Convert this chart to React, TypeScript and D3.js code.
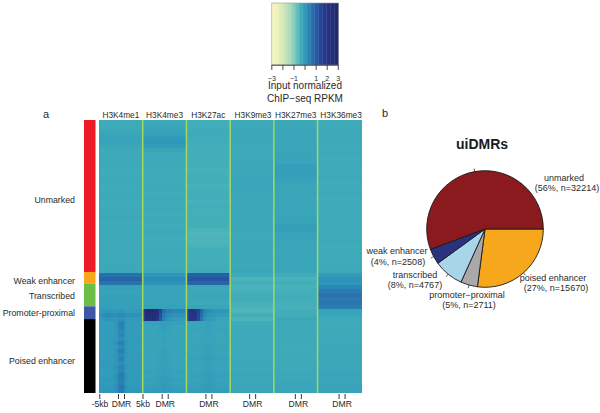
import React from "react";
import * as d3 from "d3";

const colorStops = [-3, -2.4, -1.8, -1.2, -0.8, -0.4, 0, 0.4, 0.8, 1.2, 1.6, 2.2, 3];
const colorValues = ["#f7f6c2", "#e9f0b6", "#c9e4b6", "#9bd4ba", "#6cc3bd", "#40adb9", "#2e98ba", "#2a7fb3", "#2767a8", "#264f9e", "#263c91", "#253080", "#1f2a68"];
const barTicks = [-3, -2, -1, 0, 1, 2, 3];
const barLabels = [-3, -1, 1, 2, 3];

const marks = ["H3K4me1", "H3K4me3", "H3K27ac", "H3K9me3", "H3K27me3", "H3K36me3"];
const markLabelShift = [0, 0, 0, 1, 0, 1.6];
const dmrLabelShift = [0, 0, 0, 0, 2, 2];

// One value per heatmap row (68 rows, top to bottom)
const rowsH3K4me1 = [-.36,-.32,-.3,-.25,-.22,-.2,-.26,-.32,-.34,-.32,-.35,-.33,-.36,-.34,-.3,-.34,-.36,-.33,-.3,-.33,-.36,-.34,-.32,-.34,-.28,-.33,-.35,-.32,-.3,-.34,-.3,-.33,-.32,-.3,-.34,-.31,-.3,-.28,.66,.86,.6,-.18,-.2,-.17,-.18,-.16,-.15,-.1,.1,-.05,-.08,-.1,-.07,-.1,-.08,-.06,-.1,-.07,-.05,-.08,-.06,-.04,-.07,-.05,-.03,-.05,-.02,0];
const rowsH3K4me3 = [-.3,-.27,-.22,-.15,-.05,0,-.05,-.25,-.32,-.3,-.33,-.34,-.36,-.34,-.36,-.38,-.35,-.34,-.37,-.35,-.33,-.36,-.34,-.38,-.32,-.35,-.37,-.33,-.35,-.38,-.32,-.36,-.34,-.35,-.33,-.3,-.33,-.28,.05,.18,.1,-.2,-.22,-.2,-.2,-.22,-.18,.28,.1,-.05,-.18,-.22,-.2,-.24,-.22,-.25,-.23,-.22,-.2,-.24,-.2,-.22,-.18,-.2,-.15,-.17,-.12,-.1];
const rowsH3K27ac = [-.42,-.4,-.38,-.36,-.38,-.4,-.42,-.44,-.43,-.42,-.44,-.42,-.45,-.43,-.42,-.44,-.45,-.43,-.42,-.44,-.46,-.42,-.43,-.44,-.42,-.44,-.43,-.5,-.54,-.51,-.52,-.47,-.44,-.42,-.44,-.42,-.4,-.38,.9,1.08,.82,-.28,-.3,-.27,-.28,-.3,-.25,.02,-.1,-.2,-.24,-.25,-.23,-.26,-.24,-.25,-.22,-.24,-.2,-.18,-.2,-.22,-.2,-.18,-.2,-.17,-.15,-.12];
const rowsH3K9me3 = [-.32,-.3,-.3,-.28,-.3,-.28,-.3,-.32,-.3,-.32,-.28,-.27,-.26,-.28,-.25,-.27,-.26,-.25,-.28,-.26,-.28,-.27,-.29,-.3,-.28,-.3,-.28,-.3,-.31,-.3,-.28,-.3,-.29,-.31,-.3,-.28,-.3,-.27,-.36,-.5,-.44,-.5,-.46,-.42,-.4,-.45,-.48,-.54,-.44,-.5,-.36,-.34,-.32,-.34,-.3,-.33,-.31,-.3,-.32,-.3,-.28,-.3,-.28,-.27,-.26,-.28,-.25,-.25];
const rowsH3K27me3 = [-.3,-.28,-.26,-.27,-.26,-.27,-.25,-.26,-.24,-.22,-.2,-.13,-.12,-.14,-.17,-.2,-.25,-.26,-.24,-.26,-.27,-.24,-.25,-.24,-.22,-.2,-.14,-.13,-.2,-.22,-.25,-.24,-.25,-.27,-.25,-.24,-.25,-.24,-.38,-.48,-.42,-.48,-.44,-.42,-.4,-.44,-.45,-.42,-.4,-.28,-.34,-.33,-.32,-.33,-.3,-.34,-.32,-.36,-.34,-.32,-.3,-.33,-.3,-.28,-.3,-.27,-.26,-.24];
const rowsH3K36me3 = [-.36,-.34,-.33,-.32,-.34,-.33,-.35,-.36,-.35,-.37,-.36,-.36,-.38,-.36,-.35,-.37,-.38,-.36,-.35,-.37,-.36,-.38,-.36,-.37,-.36,-.38,-.37,-.36,-.38,-.36,-.35,-.37,-.36,-.35,-.36,-.35,-.34,-.32,-.05,.1,.02,.25,.45,.6,.5,.55,.42,-.22,-.25,-.35,-.36,-.34,-.33,-.32,-.3,-.3,-.28,-.29,-.27,-.28,-.26,-.28,-.27,-.25,-.26,-.24,-.22,-.2];
const markRows = [rowsH3K4me1, rowsH3K4me3, rowsH3K27ac, rowsH3K9me3, rowsH3K27me3, rowsH3K36me3];

// Across-window profiles: 16 bins from -5kb to +5kb of each window
const profileFlat = [0,0,0,0,0,0,0,0,0,0,0,0,0,0,0,0];
const profileDmrFaint = [0,0,0,0,0,.02,.05,.08,.08,.05,.02,0,0,0,0,0];
const profileDmrStrong = [0,0,0,0,0,.03,.14,.42,.48,.16,.04,0,0,0,0,0];
const profileK4me3Promoter = [1.5,2.4,2.5,2.5,2.35,2,1.1,.4,.18,.1,.05,0,0,0,0,0];
const profileK27acPromoter = [1.5,2.1,2.15,2,1.5,.8,.35,.2,.14,.1,.06,.02,0,0,0,0];
const profileK4me1Promoter = [0,.05,.1,.12,.06,.02,.06,.12,.14,.06,0,0,0,0,0,0];
// How strongly the DMR stripe shows in each of the 18 poised-enhancer rows
const poisedDmrStrength = [.9,1,.6,.8,.5,1,.7,1.1,.6,.9,.5,.8,.7,1.1,1,.9,1.2,1];

const poisedStart = 50;
const promoterRows = [47, 48, 49];
const rowCount = rowsH3K4me1.length;

const classes = ["Unmarked", "Weak enhancer", "Transcribed", "Promoter-proximal", "Poised enhancer"];
const classCounts = [32214, 2508, 4767, 2711, 15670];
const classColors = ["#ed1c24", "#faa61a", "#6abd45", "#3f57a6", "#000000"];
const classLabelY = [200, 281, 296, 313, 361];

const pieNames = ["poised enhancer", "promoter\u2212proximal", "transcribed", "weak enhancer", "unmarked"];
const pieCounts = [15670, 2711, 4767, 2508, 32214];
const piePercents = [27, 5, 8, 4, 56];
const pieColors = ["#f6a71c", "#a9a9a9", "#a9d5e8", "#2a317f", "#8a1a1e"];
const pieLabelPos = [[553, 281, 556, 291], [467, 298, 469, 308], [415, 278, 415, 288], [397, 254, 398, 265], [564, 181, 567, 191]];

const W = 600, H = 413;
const font = "'Liberation Sans', Arial, sans-serif";
const textColor = "#2a2a2a";

function profileFor(m: number, row: number) {
  if (promoterRows.includes(row)) {
    if (m === 0) return profileK4me1Promoter;
    if (m === 1) return profileK4me3Promoter;
    if (m === 2) return profileK27acPromoter;
  }
  if (row >= poisedStart && m === 0) return profileDmrStrong;
  if (row >= poisedStart && m === 1) return profileDmrFaint;
  if (row >= poisedStart && m === 2) return profileDmrFaint;
  return profileFlat;
}

export default function App() {
  const color = d3.scaleLinear<string>().domain(colorStops).range(colorValues).interpolate(d3.interpolateRgb).clamp(true);

  const barX = d3.scaleLinear().domain([-3, 3]).range([271.8, 338.3]);
  const barSteps = d3.range(-3, 3, 0.12);

  const markX = d3.scaleBand<string>().domain(marks).range([99, 361.3]);
  const binX = d3.scaleBand<number>().domain(d3.range(16)).range([0, markX.bandwidth()]);
  const rowY = d3.scaleBand<number>().domain(d3.range(rowCount)).range([120, 393]);
  const sideY = d3.scaleLinear().domain([0, d3.sum(classCounts)]).range([120, 393]);
  const cum = d3.cumsum(classCounts);

  const pie = d3.pie<number>().sort(null).startAngle(Math.PI / 2).endAngle(Math.PI / 2 + 2 * Math.PI)(pieCounts);
  const arc = d3.arc<d3.PieArcDatum<number>>().innerRadius(0).outerRadius(58.3);
  const cx = 485, cy = 229;

  const sideTicks = (start: number) => [start + 19.5, start + 25.5];

  return (
    <svg width={W} height={H} viewBox={`0 0 ${W} ${H}`} style={{ position: "absolute", left: 0, top: 0, background: "#fff" }} fontFamily={font}>
      <defs>
        <filter id="soft" x="99" y="120" width="262.3" height="273" filterUnits="userSpaceOnUse">
          <feGaussianBlur stdDeviation="0.7 0.5" edgeMode="duplicate" />
        </filter>
      </defs>

      {/* colour key */}
      <g>
        {barSteps.map((v) => (
          <rect key={v} x={barX(v)} y={3} width={barX(v + 0.12) - barX(v) + 0.4} height={62} fill={color(v + 0.06)} />
        ))}
        <rect x={271.8} y={3} width={66.5} height={62} fill="none" stroke="#999" strokeWidth={0.6} />
        <line x1={barX(-3)} x2={barX(3)} y1={65.2} y2={65.2} stroke="#222" strokeWidth={0.8} />
        {barTicks.map((t) => (
          <line key={t} x1={barX(t)} x2={barX(t)} y1={65} y2={70} stroke="#222" strokeWidth={0.8} />
        ))}
        {barLabels.map((t) => (
          <text key={t} x={barX(t)} y={81} fontSize={7} textAnchor="middle" fill={textColor}>
            {t < 0 ? `\u2212${-t}` : t}
          </text>
        ))}
        <text x={305} y={89} fontSize={10} textAnchor="middle" fill={textColor}>Input normalized</text>
        <text x={305} y={102} fontSize={10} textAnchor="middle" fill={textColor}>ChIP{"\u2212"}seq RPKM</text>
      </g>

      <text x={46} y={118} fontSize={11} textAnchor="middle" fill={textColor}>a</text>
      <text x={385} y={117} fontSize={11} textAnchor="middle" fill={textColor}>b</text>

      {/* class side bar */}
      {classes.map((c, i) => (
        <g key={c}>
          <rect x={84} width={11.5} y={sideY(i === 0 ? 0 : cum[i - 1])} height={sideY(cum[i]) - sideY(i === 0 ? 0 : cum[i - 1])} fill={classColors[i]} />
          <text x={75} y={classLabelY[i]} dy="0.35em" fontSize={8.8} textAnchor="end" fill={textColor}>{c}</text>
        </g>
      ))}

      {/* heatmap */}
      <g filter="url(#soft)">
        {marks.map((m, mi) =>
          markRows[mi].map((v, r) => {
            const prof = profileFor(mi, r);
            const k = r >= poisedStart ? poisedDmrStrength[r - poisedStart] : 1;
            return prof.map((p, b) => (
              <rect
                key={`${m}-${r}-${b}`}
                x={(markX(m) as number) + (binX(b) as number)}
                y={rowY(r)}
                width={binX.bandwidth() + 0.5}
                height={rowY.bandwidth() + 0.5}
                fill={color(v + p * k)}
                shapeRendering="crispEdges"
              />
            ));
          })
        )}
      </g>
      {marks.slice(1).map((m) => (
        <line key={m} x1={markX(m)} x2={markX(m)} y1={120} y2={393} stroke="#a6d85c" strokeWidth={1.5} />
      ))}

      {/* heatmap labels and ticks */}
      {marks.map((m, i) => (
        <text key={m} x={(markX(m) as number) + markX.bandwidth() / 2 + markLabelShift[i]} y={118} fontSize={8.3} textAnchor="middle" fill={textColor}>{m}</text>
      ))}
      {marks.map((m, i) => {
        const start = (markX(m) as number) + dmrLabelShift[i];
        return (
          <g key={m}>
            {sideTicks(start).map((x) => (
              <line key={x} x1={x} x2={x} y1={394} y2={399} stroke="#222" strokeWidth={0.9} />
            ))}
            <text x={start + 22.5} y={406.5} fontSize={8.6} textAnchor="middle" fill={textColor}>DMR</text>
          </g>
        );
      })}
      {[99.8, 143].map((x) => (
        <line key={x} x1={x} x2={x} y1={394} y2={399} stroke="#222" strokeWidth={0.9} />
      ))}
      <text x={100} y={406.5} fontSize={8.6} textAnchor="middle" fill={textColor}>-5kb</text>
      <text x={143} y={406.5} fontSize={8.6} textAnchor="middle" fill={textColor}>5kb</text>

      {/* pie */}
      <text x={482} y={149} fontSize={14} fontWeight="bold" textAnchor="middle" fill="#1a1a1a">uiDMRs</text>
      <g transform={`translate(${cx},${cy})`}>
        {pie.map((d, i) => {
          const a = (d.startAngle + d.endAngle) / 2;
          return (
            <g key={i}>
              <path d={arc(d) as string} fill={pieColors[i]} stroke="#1a1a1a" strokeWidth={0.9} />
              <line
                x1={Math.sin(a) * 58.3}
                y1={-Math.cos(a) * 58.3}
                x2={Math.sin(a) * 61.5}
                y2={-Math.cos(a) * 61.5}
                stroke="#1a1a1a"
                strokeWidth={0.7}
              />
            </g>
          );
        })}
      </g>
      {pieNames.map((n, i) => (
        <g key={n} fontSize={9} textAnchor="middle" fill={textColor}>
          <text x={pieLabelPos[i][0]} y={pieLabelPos[i][1]}>{n}</text>
          <text x={pieLabelPos[i][2]} y={pieLabelPos[i][3]}>{`(${piePercents[i]}%, n=${pieCounts[i]})`}</text>
        </g>
      ))}
    </svg>
  );
}
